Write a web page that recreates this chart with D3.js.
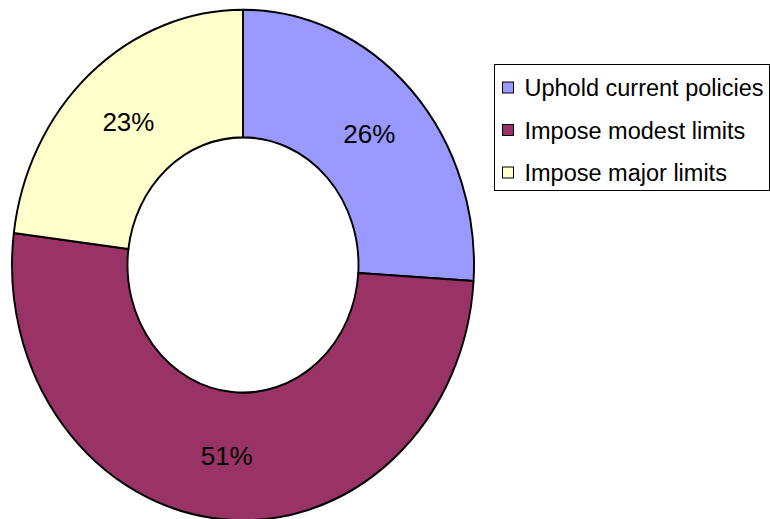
<!DOCTYPE html>
<html>
<head>
<meta charset="utf-8">
<script src="https://cdn.jsdelivr.net/npm/d3@7"></script>
<style>
  body { margin: 0; background: #fff; }
  text { font-family: "Liberation Sans", Arial, sans-serif; }
</style>
</head>
<body>
<script>
var w = 770;
var h = 519;

// data
var categories = ["Uphold current policies", "Impose modest limits", "Impose major limits"];
var values = [26, 51, 23];
var colors = ["#9999ff", "#993366", "#ffffcc"];

var cx = 243, cy = 265;
var rOuter = 231, rInner = 115.5;
var stretch = 1.105;  // chart is drawn a bit taller than wide

var svg = d3.select("body")
  .append("svg")
  .attr("width", w)
  .attr("height", h);

var pie = d3.pie().sort(null).value(function(d) { return d; });
var arcs = pie(values);
var arc = d3.arc().innerRadius(rInner).outerRadius(rOuter);

var g = svg.append("g")
  .attr("transform", "translate(" + cx + "," + cy + ") scale(1," + stretch + ")");

g.selectAll("path")
  .data(arcs)
  .enter()
  .append("path")
  .attr("d", arc)
  .attr("fill", function(d, i) { return colors[i]; })
  .attr("stroke", "#000")
  .attr("stroke-width", 1.9)
  .attr("stroke-linejoin", "round");

// labels, placed at the arc centroid
svg.selectAll("text.pct")
  .data(arcs)
  .enter()
  .append("text")
  .attr("class", "pct")
  .attr("x", function(d) { return cx + arc.centroid(d)[0]; })
  .attr("y", function(d) { return cy + arc.centroid(d)[1] * stretch; })
  .attr("dy", "0.36em")
  .attr("text-anchor", "middle")
  .attr("font-size", "26px")
  .attr("fill", "#000")
  .text(function(d) { return d.value + "%"; });

// legend
var lg = svg.append("g").attr("transform", "translate(494.5,64.5)");
lg.append("rect")
  .attr("width", 275)
  .attr("height", 126)
  .attr("fill", "#fff")
  .attr("stroke", "#000")
  .attr("stroke-width", 1);

var rows = lg.selectAll("g.row")
  .data(categories)
  .enter()
  .append("g")
  .attr("class", "row")
  .attr("transform", function(d, i) { return "translate(0," + (23.5 + i * 42.5) + ")"; });

rows.append("rect")
  .attr("x", 8)
  .attr("y", -6)
  .attr("width", 11)
  .attr("height", 11)
  .attr("fill", function(d, i) { return colors[i]; })
  .attr("stroke", "#000")
  .attr("stroke-width", 1);

rows.append("text")
  .attr("x", 30)
  .attr("y", 0)
  .attr("dy", "0.36em")
  .attr("font-size", "23.5px")
  .attr("fill", "#000")
  .text(function(d) { return d; });
</script>
</body>
</html>
